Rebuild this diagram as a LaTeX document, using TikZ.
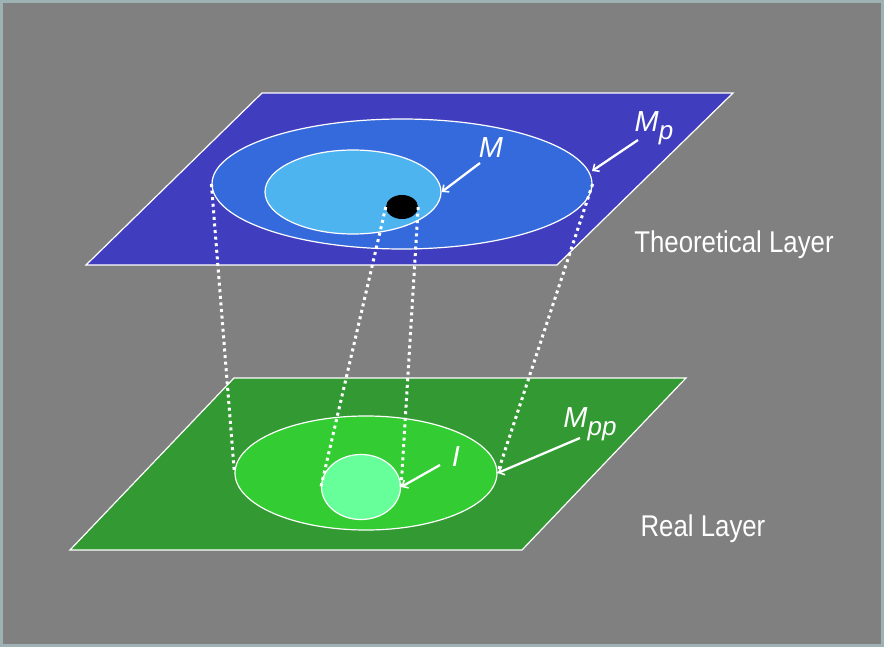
\documentclass[tikz,border=0pt]{standalone}
\usepackage{fontspec}
\setmainfont{Liberation Sans}
\usetikzlibrary{shapes.geometric,arrows.meta}
\definecolor{bggray}{RGB}{128,128,128}
\definecolor{bordercol}{RGB}{158,178,180}
\definecolor{planeblue}{RGB}{64,61,190}
\definecolor{ellblue}{RGB}{53,106,221}
\definecolor{ellsky}{RGB}{78,180,240}
\definecolor{planegreen}{RGB}{51,153,51}
\definecolor{ellgreen}{RGB}{51,204,51}
\definecolor{ellmint}{RGB}{102,255,153}
\newcommand{\subp}[1]{\raisebox{-8pt}{\fontsize{26}{28}\selectfont #1}}
\tikzset{
  plane/.style={draw=white, line width=1.2pt},
  region/.style={ellipse, draw=white, line width=1.2pt, inner sep=0pt},
  proj/.style={draw=white, line width=3pt, dash pattern=on 3pt off 3.6pt},
  pointer/.style={draw=white, line width=2.3pt, -{Straight Barb[length=5pt,width=9pt,line width=1.6pt]}},
  lbl/.style={text=white, font=\fontsize{29}{32}\selectfont\itshape, inner sep=0pt},
  layerlbl/.style={text=white, font=\fontsize{30}{32}\selectfont, inner sep=0pt},
}
\begin{document}
\begin{tikzpicture}[x=1pt,y=-1pt]
\fill[bggray] (0,0) rectangle (884,647);
\draw[bordercol, line width=3pt] (1.5,1.5) rectangle (882.5,645.5);
% planes
\filldraw[fill=planeblue, plane] (262,93) -- (733,93) -- (557,265) -- (86,265) -- cycle;
\filldraw[fill=planegreen, plane] (234,378) -- (686,378) -- (522,550) -- (70,550) -- cycle;
% theoretical layer regions
\node[region, fill=ellblue, minimum width=380pt, minimum height=130pt] (Mp) at (402,184) {};
\node[region, fill=ellsky, minimum width=176pt, minimum height=84pt] (M) at (353,192) {};
\node[ellipse, fill=black, inner sep=0pt, minimum width=32pt, minimum height=24pt] (dot) at (402,207) {};
% real layer regions
\node[region, fill=ellgreen, minimum width=262pt, minimum height=114pt] (Mpp) at (366,473) {};
\node[region, fill=ellmint, minimum width=79pt, minimum height=65pt] (I) at (361,487) {};
% projections
\draw[proj] (Mp.west) -- (Mpp.west);
\draw[proj] (Mp.east) -- (Mpp.east);
\draw[proj] (dot.west) -- (I.west);
\draw[proj] (dot.east) -- (I.east);
% labels
\node[lbl] (labM) at (491,148) {M};
\node[lbl] (labMp) at (654,128) {M\subp{p}};
\node[lbl] (labMpp) at (590,424) {M\subp{pp}};
\node[lbl] (labI) at (456,457) {I};
\coordinate (tM) at (480,163);
\coordinate (tMp) at (638,140);
\coordinate (hMp) at (592,171);
\coordinate (tMpp) at (580,438);
\coordinate (tI) at (440,465);
\draw[pointer] (tM) -- (M.east);
\draw[pointer] (tMp) -- (hMp);
\draw[pointer] (tMpp) -- (Mpp.east);
\draw[pointer] (tI) -- (I.east);
\node[layerlbl] (theo) at (734,245) {\scalebox{0.86}[1]{Theoretical Layer}};
\node[layerlbl] (real) at (703,529) {\scalebox{0.86}[1]{Real Layer}};
\end{tikzpicture}
\end{document}
